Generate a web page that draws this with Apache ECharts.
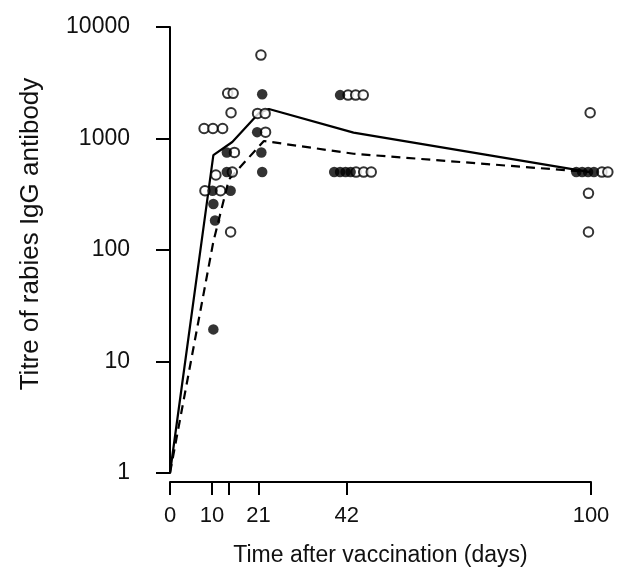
<!DOCTYPE html>
<html>
<head>
<meta charset="utf-8">
<script src="https://cdn.jsdelivr.net/npm/echarts@6/dist/echarts.min.js"></script>
<style>
  html, body { margin: 0; padding: 0; background: #fff; }
  #main { width: 621px; height: 577px; }
</style>
</head>
<body>
<div id="main"></div>
<script>
// days / titres (points spread a little around each day)
var filledDays = [10.1, 10.3, 10.7, 10.3, 14.4, 13.5, 13.5, 21.9, 20.7, 21.7, 21.9, 40.4, 39.0, 40.4, 41.7, 42.9, 96.5, 97.9, 99.3, 100.7];
var filledTitres = [340, 259, 184, 19.4, 340, 750, 500, 2490, 1140, 750, 500, 2450, 500, 500, 500, 500, 500, 500, 500, 500];

var openDays = [10.9, 8.3, 12.0, 8.1, 10.2, 12.5, 13.7, 15.0, 14.5, 15.3, 14.8, 14.4, 21.6, 20.8, 22.6, 22.7, 42.3, 44.1, 45.9, 44.2, 46.0, 47.8, 99.8, 102.6, 104.0, 99.4, 99.4];
var openTitres = [471, 340, 340, 1230, 1230, 1230, 2540, 2540, 1700, 750, 500, 145, 5600, 1680, 1680, 1140, 2450, 2450, 2450, 500, 500, 500, 1700, 500, 500, 322, 145];

// mean curves
var solidDays = [0, 10.3, 14.8, 21.2, 23.5, 43.6, 99.8];
var solidTitres = [1, 710, 930, 1700, 1840, 1130, 500];
var dashedDays = [0, 10.3, 14.0, 22.3, 43.6, 99.8];
var dashedTitres = [1, 119, 430, 950, 730, 500];

var xTickValues = [0, 10, 14, 21, 42, 100];
var xLabelValues = [0, 10, 21, 42, 100];

function pairs(xs, ys) {
  var out = [];
  for (var i = 0; i < xs.length; i++) out.push([xs[i], ys[i]]);
  return out;
}

var font = 'Liberation Sans, Arial, Helvetica, sans-serif';
var ink = '#111';

var chart = echarts.init(document.getElementById('main'));
var option = {
  animation: false,
  backgroundColor: '#fff',
  grid: { left: 170, right: 30, top: 27, bottom: 104, outerBoundsMode: 'none' },
  xAxis: {
    type: 'value',
    min: 0,
    max: 100,
    offset: 9,
    name: 'Time after vaccination (days)',
    nameLocation: 'middle',
    nameGap: 62,
    nameTextStyle: { fontFamily: font, fontSize: 23, color: ink },
    axisLine: { lineStyle: { color: '#000', width: 2 } },
    axisTick: { length: 13, lineStyle: { color: '#000', width: 2 }, customValues: xTickValues },
    axisLabel: { margin: 23, fontFamily: font, fontSize: 22, color: ink, customValues: xLabelValues },
    splitLine: { show: false }
  },
  yAxis: {
    type: 'log',
    logBase: 10,
    min: 1,
    max: 10000,
    offset: 9,
    name: 'Titre of rabies IgG antibody',
    nameLocation: 'middle',
    nameGap: 117,
    nameTextStyle: { fontFamily: font, fontSize: 26, color: ink, padding: [0, 0, 0, 32] },
    axisLine: { lineStyle: { color: '#000', width: 2 } },
    axisTick: { length: 14, lineStyle: { color: '#000', width: 2 } },
    axisLabel: {
      margin: 31, fontFamily: font, fontSize: 23, color: ink,
      formatter: function (v) { return String(Math.round(v)); }
    },
    minorTick: { show: false },
    splitLine: { show: false }
  },
  series: [
    {
      type: 'line',
      data: pairs(solidDays, solidTitres),
      symbol: 'none',
      clip: false,
      z: 2,
      lineStyle: { color: '#000', width: 2.2 }
    },
    {
      type: 'line',
      data: pairs(dashedDays, dashedTitres),
      symbol: 'none',
      clip: false,
      z: 2,
      lineStyle: { color: '#000', width: 2.2, type: [9, 6] }
    },
    {
      type: 'scatter',
      data: pairs(openDays, openTitres),
      symbol: 'circle',
      symbolSize: 9.5,
      clip: false,
      z: 3,
      itemStyle: { color: '#fff', borderColor: '#000', borderWidth: 2 }
    },
    {
      type: 'scatter',
      data: pairs(filledDays, filledTitres),
      symbol: 'circle',
      symbolSize: 10.5,
      clip: false,
      z: 4,
      itemStyle: { color: '#000' }
    }
  ]
};
chart.setOption(option);
</script>
</body>
</html>
